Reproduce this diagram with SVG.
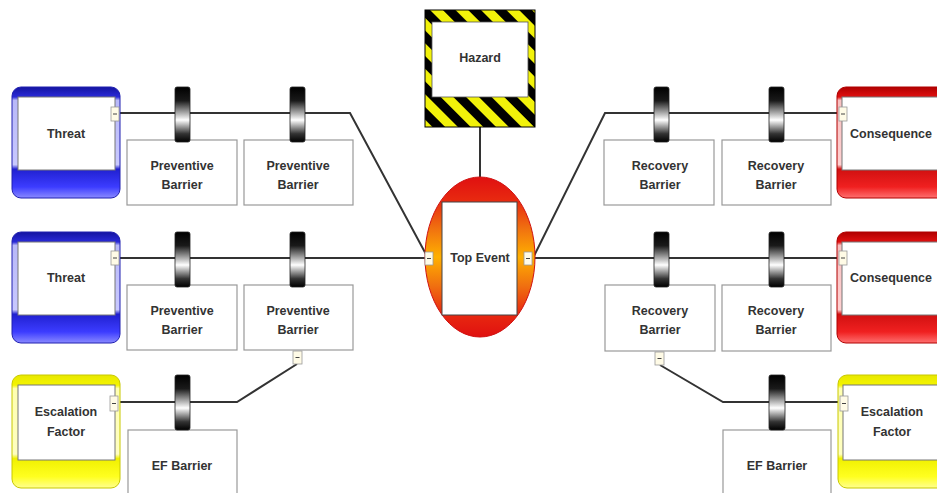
<svg xmlns="http://www.w3.org/2000/svg" width="937" height="493" viewBox="0 0 937 493">
<defs>
<style>
.lbl{font-family:"Liberation Sans",Arial,sans-serif;font-weight:bold;font-size:12.5px;fill:#333;text-anchor:middle}
.box{fill:#fff;stroke:#999;stroke-width:1.2}
.inner{fill:#fff;stroke:#777;stroke-width:1}
.line{fill:none;stroke:#333;stroke-width:2}
.cyl{fill:url(#gCyl);stroke:#222;stroke-width:0.8}
.btn{fill:#fffbe6;stroke:#999;stroke-width:0.8}
.btnm{stroke:#444;stroke-width:1}
</style>
<linearGradient id="gCyl" x1="0" y1="0" x2="0" y2="1">
<stop offset="0" stop-color="#000"/><stop offset="0.25" stop-color="#1a1a1a"/><stop offset="0.6" stop-color="#fff"/><stop offset="0.85" stop-color="#333"/><stop offset="1" stop-color="#000"/>
</linearGradient>
<linearGradient id="gBlue" x1="0" y1="0" x2="0" y2="1">
<stop offset="0" stop-color="#1414a0"/><stop offset="0.09" stop-color="#2a2ad8"/><stop offset="0.12" stop-color="#b8b8f8"/><stop offset="0.7" stop-color="#c8c8ff"/><stop offset="0.74" stop-color="#2020d0"/><stop offset="0.9" stop-color="#3c3cff"/><stop offset="1" stop-color="#8a8aff"/>
</linearGradient>
<linearGradient id="gRed" x1="0" y1="0" x2="0" y2="1">
<stop offset="0" stop-color="#b00000"/><stop offset="0.09" stop-color="#e01010"/><stop offset="0.12" stop-color="#f8c0c0"/><stop offset="0.7" stop-color="#ffd0d0"/><stop offset="0.74" stop-color="#d01010"/><stop offset="0.9" stop-color="#f02020"/><stop offset="1" stop-color="#ff7070"/>
</linearGradient>
<linearGradient id="gYel" x1="0" y1="0" x2="0" y2="1">
<stop offset="0" stop-color="#e8e800"/><stop offset="0.09" stop-color="#f4f400"/><stop offset="0.12" stop-color="#ffffb0"/><stop offset="0.7" stop-color="#ffffc0"/><stop offset="0.74" stop-color="#f0f000"/><stop offset="0.9" stop-color="#ffff20"/><stop offset="1" stop-color="#ffff90"/>
</linearGradient>
<linearGradient id="gTop" x1="0" y1="0" x2="0" y2="1">
<stop offset="0" stop-color="#e01010"/><stop offset="0.15" stop-color="#e82a10"/><stop offset="0.32" stop-color="#f07010"/><stop offset="0.5" stop-color="#ffb000"/><stop offset="0.68" stop-color="#f07010"/><stop offset="0.85" stop-color="#e82a10"/><stop offset="1" stop-color="#e01010"/>
</linearGradient>
<pattern id="stripes" width="18" height="18" patternUnits="userSpaceOnUse" patternTransform="rotate(-45)">
<rect width="18" height="18" fill="#f2f20a"/><rect width="9" height="18" fill="#000"/>
</pattern>
</defs>

<g id="connectors">
<path class="line" d="M118 113 H350 L428 258"/>
<path class="line" d="M118 258 H425"/>
<path class="line" d="M118 402 H237 L297 364"/>
<path class="line" d="M480 127 V177"/>
<path class="line" d="M533 258 L605 113 H839"/>
<path class="line" d="M533 258 H840"/>
<path class="line" d="M660 365 L723 402 H840"/>
</g>

<g id="hazard">
<rect x="425" y="10" width="110" height="117" fill="url(#stripes)" stroke="#000" stroke-width="1"/>
<rect x="432" y="22" width="96" height="75" fill="#fff" stroke="#555" stroke-width="0.8"/>
<text class="lbl" x="480" y="62">Hazard</text>
</g>

<g id="top-event">
<ellipse cx="480" cy="257" rx="55" ry="80" fill="url(#gTop)" stroke="#d01010" stroke-width="1"/>
<rect x="442" y="202" width="75" height="113" fill="#fff" stroke="#444" stroke-width="1"/>
<text class="lbl" x="480" y="262">Top Event</text>
<rect class="btn" x="425" y="252" width="8" height="13"/><line class="btnm" x1="427" y1="258.5" x2="431" y2="258.5"/>
<rect class="btn" x="524" y="252" width="8" height="13"/><line class="btnm" x1="526" y1="258.5" x2="530" y2="258.5"/>
</g>

<g id="threat-1">
<rect x="12" y="87" width="108" height="111" rx="9" fill="url(#gBlue)" stroke="#2020b0" stroke-width="1"/>
<rect class="inner" x="18" y="97" width="97" height="73"/>
<text class="lbl" x="66" y="138">Threat</text>
<rect class="btn" x="111" y="107" width="8" height="14"/><line class="btnm" x1="113" y1="114" x2="117" y2="114"/>
</g>
<g id="threat-2">
<rect x="12" y="232" width="108" height="111" rx="9" fill="url(#gBlue)" stroke="#2020b0" stroke-width="1"/>
<rect class="inner" x="18" y="242" width="97" height="73"/>
<text class="lbl" x="66" y="282">Threat</text>
<rect class="btn" x="111" y="251" width="8" height="14"/><line class="btnm" x1="113" y1="258" x2="117" y2="258"/>
</g>
<g id="escalation-left">
<rect x="12" y="375" width="108" height="113" rx="9" fill="url(#gYel)" stroke="#c8c800" stroke-width="1"/>
<rect class="inner" x="18" y="385" width="97" height="75"/>
<text class="lbl" x="66" y="416">Escalation</text>
<text class="lbl" x="66" y="436">Factor</text>
<rect class="btn" x="110" y="396" width="8" height="15"/><line class="btnm" x1="112" y1="403.5" x2="116" y2="403.5"/>
</g>

<g id="pb-1-1">
<rect class="box" x="127" y="140" width="110" height="65"/>
<rect class="cyl" x="175" y="87" width="15" height="55" rx="2"/>
<text class="lbl" x="182" y="170">Preventive</text>
<text class="lbl" x="182" y="189">Barrier</text>
</g>
<g id="pb-1-2">
<rect class="box" x="244" y="140" width="109" height="65"/>
<rect class="cyl" x="290" y="87" width="15" height="55" rx="2"/>
<text class="lbl" x="298" y="170">Preventive</text>
<text class="lbl" x="298" y="189">Barrier</text>
</g>
<g id="pb-2-1">
<rect class="box" x="127" y="285" width="110" height="65"/>
<rect class="cyl" x="175" y="232" width="15" height="55" rx="2"/>
<text class="lbl" x="182" y="315">Preventive</text>
<text class="lbl" x="182" y="334">Barrier</text>
</g>
<g id="pb-2-2">
<rect class="box" x="244" y="285" width="109" height="65"/>
<rect class="cyl" x="290" y="232" width="15" height="55" rx="2"/>
<text class="lbl" x="298" y="315">Preventive</text>
<text class="lbl" x="298" y="334">Barrier</text>
<rect class="btn" x="293" y="351" width="9" height="13"/><line class="btnm" x1="295.5" y1="357.5" x2="299.5" y2="357.5"/>
</g>
<g id="ef-barrier-left">
<rect class="box" x="128" y="430" width="109" height="70"/>
<rect class="cyl" x="175" y="375" width="15" height="55" rx="2"/>
<text class="lbl" x="182" y="470">EF Barrier</text>
</g>

<g id="rb-1-1">
<rect class="box" x="604" y="140" width="110" height="65"/>
<rect class="cyl" x="654" y="87" width="15" height="55" rx="2"/>
<text class="lbl" x="660" y="170">Recovery</text>
<text class="lbl" x="660" y="189">Barrier</text>
</g>
<g id="rb-1-2">
<rect class="box" x="722" y="140" width="109" height="65"/>
<rect class="cyl" x="769" y="87" width="15" height="55" rx="2"/>
<text class="lbl" x="776" y="170">Recovery</text>
<text class="lbl" x="776" y="189">Barrier</text>
</g>
<g id="rb-2-1">
<rect class="box" x="605" y="285" width="110" height="66"/>
<rect class="cyl" x="654" y="232" width="15" height="55" rx="2"/>
<text class="lbl" x="660" y="315">Recovery</text>
<text class="lbl" x="660" y="334">Barrier</text>
<rect class="btn" x="655" y="352" width="9" height="13"/><line class="btnm" x1="657.5" y1="358.5" x2="661.5" y2="358.5"/>
</g>
<g id="rb-2-2">
<rect class="box" x="722" y="285" width="109" height="66"/>
<rect class="cyl" x="769" y="232" width="15" height="55" rx="2"/>
<text class="lbl" x="776" y="315">Recovery</text>
<text class="lbl" x="776" y="334">Barrier</text>
</g>
<g id="ef-barrier-right">
<rect class="box" x="723" y="430" width="108" height="70"/>
<rect class="cyl" x="769" y="375" width="16" height="55" rx="2"/>
<text class="lbl" x="777" y="470">EF Barrier</text>
</g>

<g id="consequence-1">
<rect x="837" y="87" width="110" height="111" rx="9" fill="url(#gRed)" stroke="#b00000" stroke-width="1"/>
<rect class="inner" x="842" y="97" width="110" height="73"/>
<text class="lbl" x="891" y="138">Consequence</text>
<rect class="btn" x="839" y="107" width="8" height="14"/><line class="btnm" x1="841" y1="114" x2="845" y2="114"/>
</g>
<g id="consequence-2">
<rect x="837" y="232" width="110" height="111" rx="9" fill="url(#gRed)" stroke="#b00000" stroke-width="1"/>
<rect class="inner" x="842" y="242" width="110" height="73"/>
<text class="lbl" x="891" y="282">Consequence</text>
<rect class="btn" x="839" y="251" width="8" height="14"/><line class="btnm" x1="841" y1="258" x2="845" y2="258"/>
</g>
<g id="escalation-right">
<rect x="838" y="375" width="110" height="113" rx="9" fill="url(#gYel)" stroke="#c8c800" stroke-width="1"/>
<rect class="inner" x="843" y="385" width="110" height="75"/>
<text class="lbl" x="892" y="416">Escalation</text>
<text class="lbl" x="892" y="436">Factor</text>
<rect class="btn" x="840" y="396" width="8" height="15"/><line class="btnm" x1="842" y1="403.5" x2="846" y2="403.5"/>
</g>
</svg>
